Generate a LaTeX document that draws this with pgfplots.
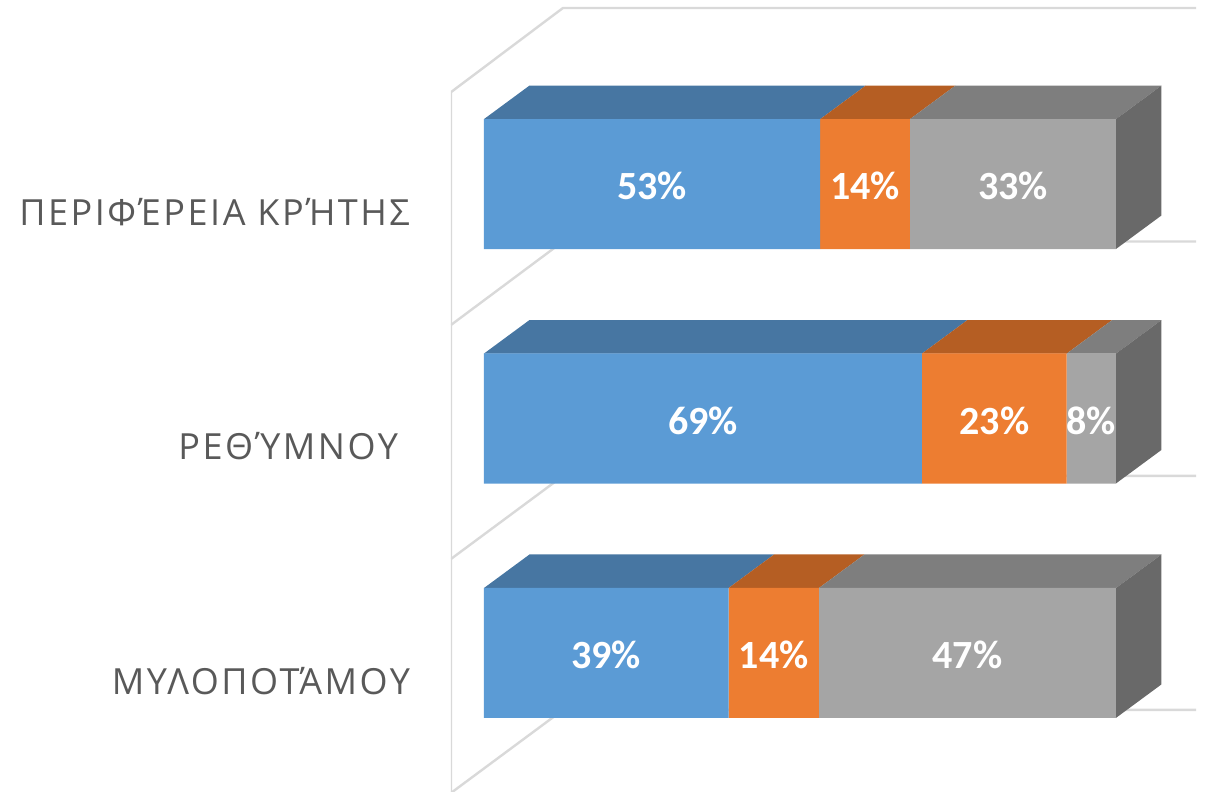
\documentclass[border=0pt]{standalone}
\usepackage{fontspec}
\setmainfont{Carlito}
\newfontfamily\catfont[LetterSpace=7]{Open Sans}
\usepackage{pgfplots}
\pgfplotsset{compat=1.18}
\definecolor{cblue}{HTML}{5B9BD5}
\definecolor{corange}{HTML}{ED7D31}
\definecolor{cgray}{HTML}{A5A5A5}
\definecolor{tblue}{HTML}{4776A2}
\definecolor{torange}{HTML}{B55E23}
\definecolor{tgray}{HTML}{7E7E7E}
\definecolor{sgray}{HTML}{696969}
\definecolor{wall}{HTML}{D9D9D9}
\definecolor{cattext}{HTML}{595959}
\pgfplotsset{
  base/.style={
    scale only axis, width=378pt, height=396pt,
    xmin=-5.22, xmax=114.4, ymin=-0.593, ymax=2.785,
  },
  wallline/.style={draw=wall, line width=1.2pt},
}
\begin{document}
\begin{tikzpicture}
\path[use as bounding box] (-225.5pt,0pt) rectangle (378pt,396pt);
% walls and the 3d faces of the bars
\begin{axis}[base, hide axis]
\addplot[wallline] coordinates {(-5.22,-0.593) (-5.22,2.392) (12.50,2.751) (112.66,2.751)};
\addplot[wallline] coordinates {(-5.22,1.399) (12.50,1.755) (112.66,1.755)};
\addplot[wallline] coordinates {(-5.22,0.401) (12.50,0.755) (112.66,0.755)};
\addplot[wallline] coordinates {(-5.22,-0.597) (12.50,-0.243) (112.66,-0.243)};
% top faces, Crete
\addplot[fill=tblue, draw=none] coordinates {(0,2.277) (53.2,2.277) (60.4,2.42) (7.2,2.42)} -- cycle;
\addplot[fill=torange, draw=none] coordinates {(53.2,2.277) (67.4,2.277) (74.6,2.42) (60.4,2.42)} -- cycle;
\addplot[fill=tgray, draw=none] coordinates {(67.4,2.277) (100,2.277) (107.2,2.42) (74.6,2.42)} -- cycle;
\addplot[fill=sgray, draw=none] coordinates {(100,2.277) (107.2,2.42) (107.2,1.866) (100,1.723)} -- cycle;
% top faces, Rethymno
\addplot[fill=tblue, draw=none] coordinates {(0,1.277) (69.3,1.277) (76.5,1.42) (7.2,1.42)} -- cycle;
\addplot[fill=torange, draw=none] coordinates {(69.3,1.277) (92.2,1.277) (99.4,1.42) (76.5,1.42)} -- cycle;
\addplot[fill=tgray, draw=none] coordinates {(92.2,1.277) (100,1.277) (107.2,1.42) (99.4,1.42)} -- cycle;
\addplot[fill=sgray, draw=none] coordinates {(100,1.277) (107.2,1.42) (107.2,0.866) (100,0.723)} -- cycle;
% top faces, Mylopotamos
\addplot[fill=tblue, draw=none] coordinates {(0,0.277) (38.7,0.277) (45.9,0.42) (7.2,0.42)} -- cycle;
\addplot[fill=torange, draw=none] coordinates {(38.7,0.277) (53,0.277) (60.2,0.42) (45.9,0.42)} -- cycle;
\addplot[fill=tgray, draw=none] coordinates {(53,0.277) (100,0.277) (107.2,0.42) (60.2,0.42)} -- cycle;
\addplot[fill=sgray, draw=none] coordinates {(100,0.277) (107.2,0.42) (107.2,-0.134) (100,-0.277)} -- cycle;
\end{axis}
% front faces
\begin{axis}[base,
  xbar stacked, bar width=65pt,
  axis line style={draw=none}, tick style={draw=none},
  xtick=\empty, ytick={0,1,2},
  yticklabels={ΜΥΛΟΠΟΤΆΜΟΥ,ΡΕΘΎΜΝΟΥ\ \ ,ΠΕΡΙΦΈΡΕΙΑ ΚΡΉΤΗΣ},
  yticklabel style={font=\catfont\fontsize{18}{22}\selectfont, text=cattext, anchor=east, xshift=-17pt, yshift=-14pt},
  nodes near coords={\pgfmathprintnumber[fixed,precision=0]{\pgfplotspointmeta}\%},
  every node near coord/.append style={font=\bfseries\fontsize{20}{24}\selectfont, text=white, yshift=-1pt,
    /pgf/number format/assume math mode=true},
]
\addplot[fill=cblue, draw=none] coordinates {(38.7,0) (69.3,1) (53.2,2)};
\addplot[fill=corange, draw=none] coordinates {(14.3,0) (22.9,1) (14.2,2)};
\addplot[fill=cgray, draw=none] coordinates {(47,0) (7.8,1) (32.6,2)};
\end{axis}
\end{tikzpicture}
\end{document}
